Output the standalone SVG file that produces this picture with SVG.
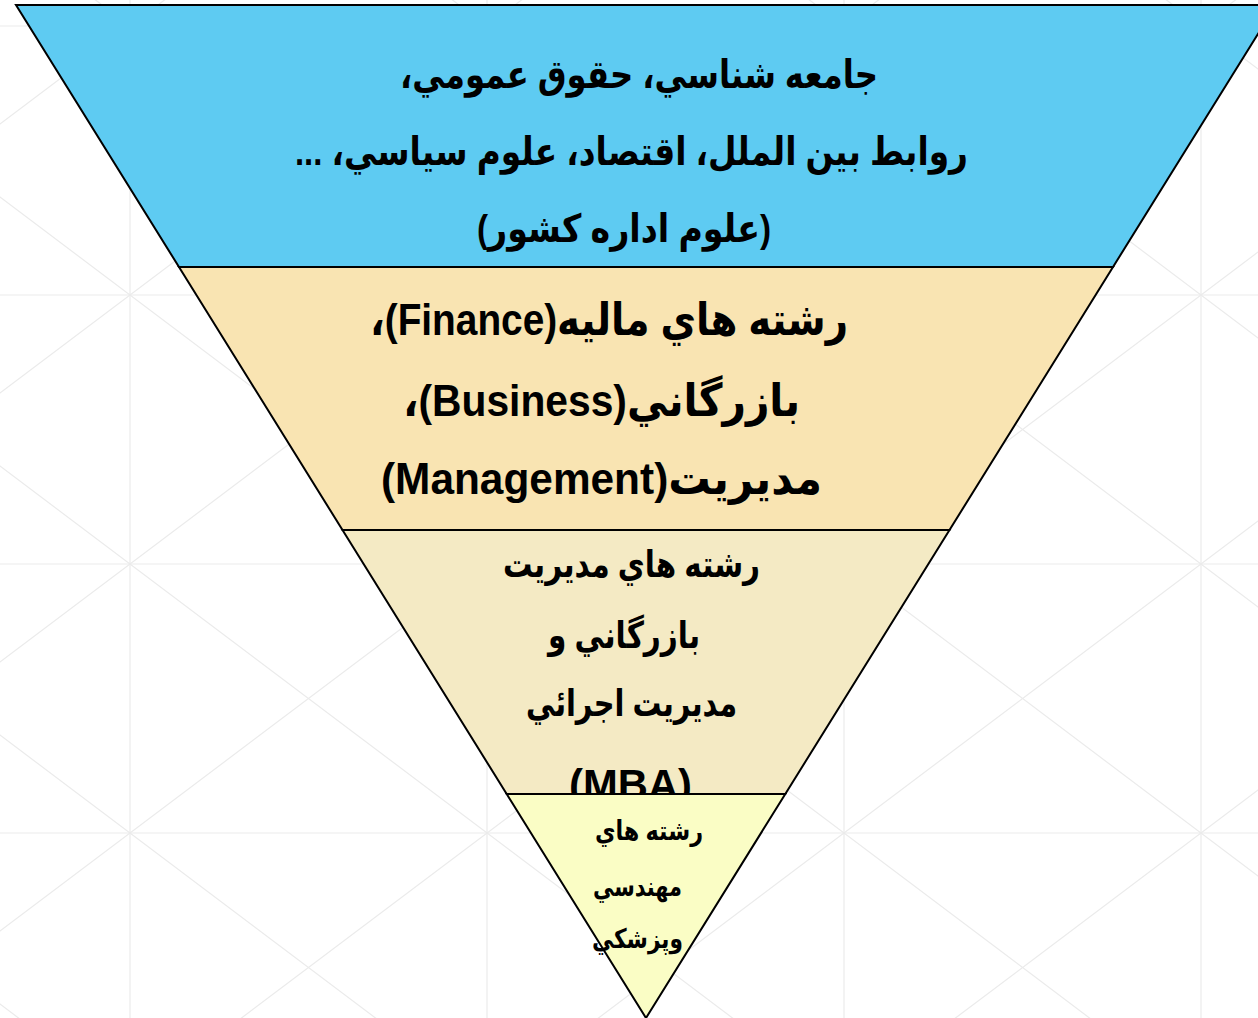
<svg xmlns="http://www.w3.org/2000/svg" width="1258" height="1018" viewBox="0 0 1258 1018">
<style>
.grid{stroke:#ebebeb;stroke-width:1.2;fill:none}
.layer{stroke:#000;stroke-width:2;stroke-linejoin:miter}
.t{font-family:"Liberation Sans","DejaVu Sans",sans-serif;font-weight:bold;fill:#000;text-anchor:middle;direction:rtl;unicode-bidi:embed}
.t1{font-size:39px}
.t2{font-size:45px}
.t3{font-size:37px}
.t4{font-size:27px}
</style>
<rect width="1258" height="1018" fill="#fff"/>
<g id="background-grid" class="grid">
<path d="M0 26H1258M0 295H1258M0 564H1258M0 833H1258M130 0V1018M487 0V1018M844 0V1018M1201 0V1018"/>
<path d="M-227 -1319L1558 26M-227 -1050L1558 295M-227 -781L1558 564M-227 -512L1558 833M-227 -243L1558 1102M-227 26L1558 1371M-227 295L1558 1640M-227 564L1558 1909M-227 833L1558 2178"/>
<path d="M-227 26L1558 -1319M-227 295L1558 -1050M-227 564L1558 -781M-227 833L1558 -512M-227 1102L1558 -243M-227 1371L1558 26M-227 1640L1558 295M-227 1909L1558 564M-227 2178L1558 833"/>
</g>
<g id="connectors"></g>
<g id="layer1">
<polygon class="layer" fill="#5ecbf2" points="16,5 1276,5 1113,267 179,267"/>
<text class="t t1" x="639" y="88" textLength="478" lengthAdjust="spacingAndGlyphs">جامعه شناسي، حقوق عمومي،</text>
<text class="t t1" x="631.5" y="165" textLength="673" lengthAdjust="spacingAndGlyphs">روابط بين الملل، اقتصاد، علوم سياسي، ...</text>
<text class="t t1" x="624" y="242" textLength="294" lengthAdjust="spacingAndGlyphs">(علوم اداره كشور)</text>
</g>
<g id="layer2">
<polygon class="layer" fill="#f9e4b2" points="179,267 1113,267 949.5,530 342.5,530"/>
<text class="t t2" x="609" y="335" textLength="478" lengthAdjust="spacingAndGlyphs">رشته هاي ماليه(Finance)،</text>
<text class="t t2" x="601.5" y="416" textLength="397" lengthAdjust="spacingAndGlyphs">بازرگاني(Business)،</text>
<text class="t t2" x="601.5" y="494" textLength="441" lengthAdjust="spacingAndGlyphs">مديريت(Management)</text>
</g>
<g id="layer3">
<polygon class="layer" fill="#f4eac4" points="342.5,530 949.5,530 785.3,794 506.7,794"/>
<text class="t t3" x="631.5" y="577" textLength="257" lengthAdjust="spacingAndGlyphs">رشته هاي مديريت</text>
<text class="t t3" x="624" y="648" textLength="152" lengthAdjust="spacingAndGlyphs">بازرگاني و</text>
<text class="t t3" x="631.5" y="716" textLength="211" lengthAdjust="spacingAndGlyphs">مديريت اجرائي</text>
<text class="t" x="630.5" y="799" style="font-size:42px;direction:ltr" textLength="123" lengthAdjust="spacingAndGlyphs">(MBA)</text>
</g>
<g id="layer4">
<polygon class="layer" fill="#fafdc5" points="506.7,794 785.3,794 646,1018"/>
<text class="t t4" x="649" y="840" textLength="108" lengthAdjust="spacingAndGlyphs">رشته هاي</text>
<text class="t t4" x="637.5" y="896" textLength="89" lengthAdjust="spacingAndGlyphs">مهندسي</text>
<text class="t t4" x="637.5" y="948" textLength="91" lengthAdjust="spacingAndGlyphs">وپزشكي</text>
</g>
</svg>
